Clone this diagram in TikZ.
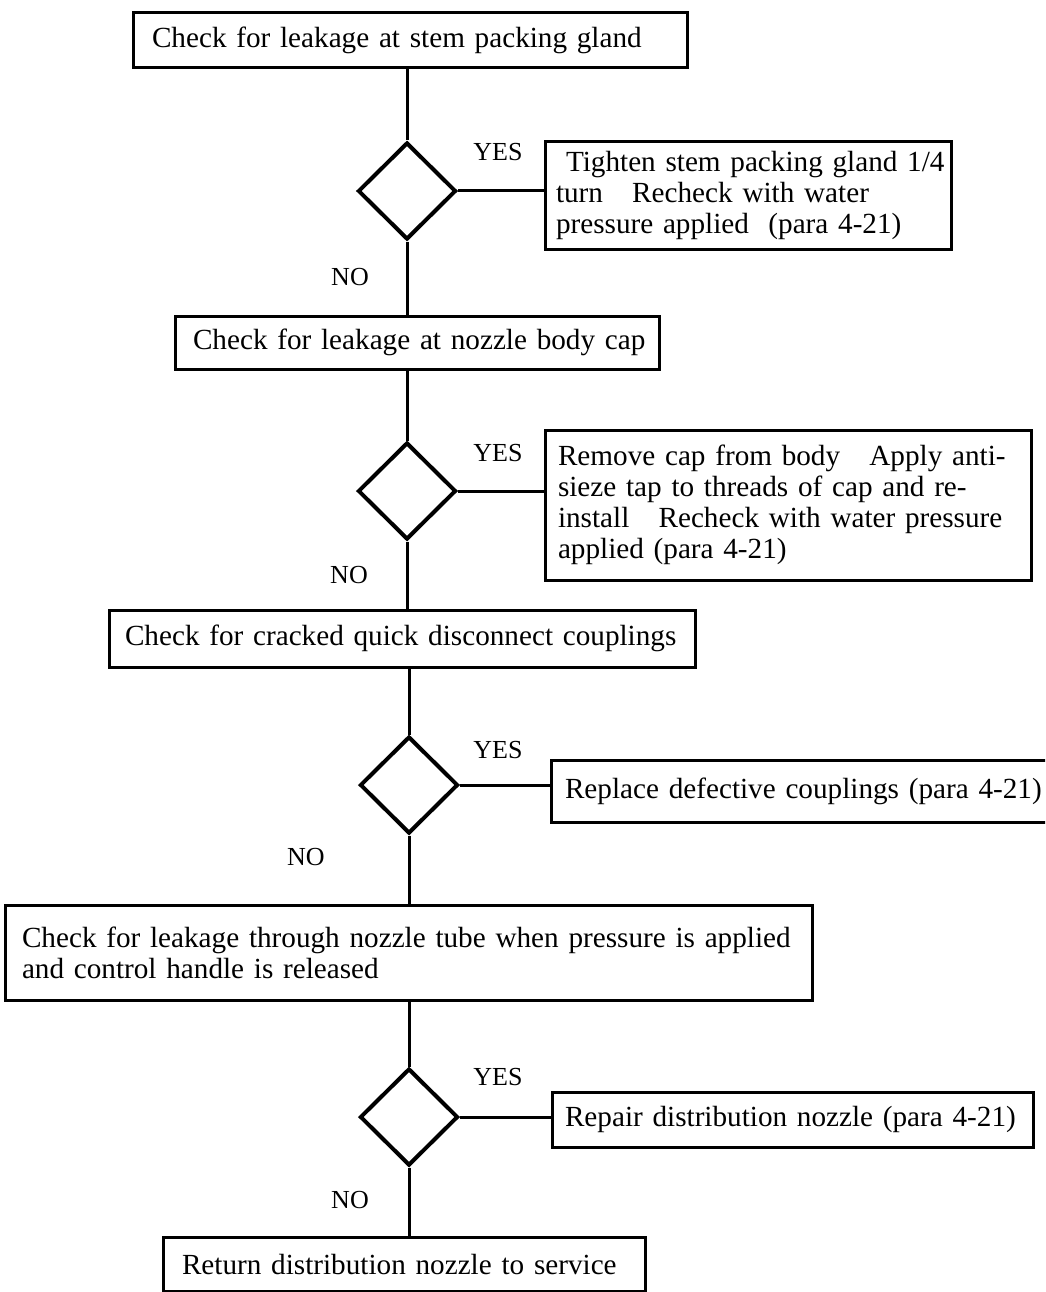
\documentclass[tikz,border=0pt]{standalone}
\usepackage{fontspec}
\setmainfont{Liberation Serif}
\usetikzlibrary{shapes.geometric}
\begin{document}
\begin{tikzpicture}[x=1pt,y=-1pt,
  box/.style={draw,line width=3pt,rectangle,align=left,inner ysep=0pt,
    font=\fontsize{29.2}{31}\selectfont},
  decision/.style={draw,diamond,line width=4pt,minimum width=98pt,
    minimum height=97pt,inner sep=0pt},
  link/.style={line width=3pt},
  answer/.style={font=\fontsize{26}{28}\selectfont,inner sep=0pt}]
\useasboundingbox (0,0) rectangle (1045,1292);
\clip (0,0) rectangle (1045,1292);
\fill[white] (0,0) rectangle (1045,1292);

% action and check boxes
\node[box,minimum width=554pt,minimum height=55pt,inner xsep=19pt,text width=516pt]
  (b1) at (410,40) {\mbox{Check for leakage at stem packing gland}};
\node[box,minimum width=406pt,minimum height=107pt,inner xsep=11pt,text width=384pt]
  (b2) at (748,195.5) {\mbox{\hspace{10pt}Tighten stem packing gland 1/4}\\
  \mbox{turn\ \ \ Recheck with water}\\
  \mbox{pressure applied\ \ (para 4-21)}};
\node[box,minimum width=484pt,minimum height=53pt,inner xsep=18pt,text width=448pt]
  (b3) at (417,342.5) {\mbox{Check for leakage at nozzle body cap}};
\node[box,minimum width=486pt,minimum height=150pt,inner xsep=13pt,text width=460pt]
  (b4) at (788,505) {\mbox{Remove cap from body\ \ \ Apply anti-}\\
  \mbox{sieze tap to threads of cap and re-}\\
  \mbox{install\ \ \ Recheck with water pressure}\\
  \mbox{applied (para 4-21)}};
\node[box,minimum width=586pt,minimum height=57pt,inner xsep=16pt,text width=554pt]
  (b5) at (402,638.5) {\mbox{Check for cracked quick disconnect couplings}};
\node[box,minimum width=520pt,minimum height=62pt,inner xsep=14pt,text width=492pt]
  (b6) at (811,791) {\mbox{Replace defective couplings (para 4-21)}};
\node[box,minimum width=807pt,minimum height=95pt,inner xsep=17pt,text width=773pt]
  (b7) at (408.5,952.5) {\mbox{Check for leakage through nozzle tube when pressure is applied}\\
  \mbox{and control handle is released}};
\node[box,minimum width=481pt,minimum height=55pt,inner xsep=13pt,text width=455pt]
  (b8) at (792.5,1119.5) {\mbox{Repair distribution nozzle (para 4-21)}};
\node[box,minimum width=482pt,minimum height=54pt,inner xsep=19pt,text width=444pt]
  (b9) at (404,1264) {\mbox{Return distribution nozzle to service}};

% decisions
\node[decision] (d1) at (407,191) {};
\node[decision] (d2) at (407,491) {};
\node[decision] (d3) at (409,785) {};
\node[decision] (d4) at (409,1117) {};

% branch labels
\node[answer] (y1) at (498,152) {YES};
\node[answer] (n1) at (350,277) {NO};
\node[answer] (y2) at (498,453) {YES};
\node[answer] (n2) at (349,575) {NO};
\node[answer] (y3) at (498,750) {YES};
\node[answer] (n3) at (306,857) {NO};
\node[answer] (y4) at (498,1077) {YES};
\node[answer] (n4) at (350,1200) {NO};

% connectors
\draw[link] (b1.south -| d1.north) -- (d1.north);
\draw[link] (d1.east) -- (d1.east -| b2.west);
\draw[link] (d1.south) -- (d1.south |- b3.north);
\draw[link] (b3.south -| d2.north) -- (d2.north);
\draw[link] (d2.east) -- (d2.east -| b4.west);
\draw[link] (d2.south) -- (d2.south |- b5.north);
\draw[link] (b5.south -| d3.north) -- (d3.north);
\draw[link] (d3.east) -- (d3.east -| b6.west);
\draw[link] (d3.south) -- (d3.south |- b7.north);
\draw[link] (b7.south -| d4.north) -- (d4.north);
\draw[link] (d4.east) -- (d4.east -| b8.west);
\draw[link] (d4.south) -- (d4.south |- b9.north);
\end{tikzpicture}
\end{document}
